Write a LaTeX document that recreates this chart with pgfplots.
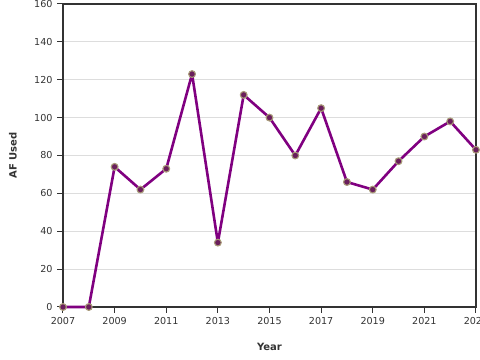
\documentclass[border=0pt]{standalone}
\usepackage{fontspec}
\setmainfont{DejaVu Sans}
\usepackage{pgfplots}
\pgfplotsset{compat=1.18}
\definecolor{lineP}{HTML}{800080}
\definecolor{markF}{HTML}{6A1E5C}
\definecolor{markD}{HTML}{A89A78}
\definecolor{axisC}{HTML}{333333}
\definecolor{gridC}{HTML}{DDDDDD}
\begin{document}
\begin{tikzpicture}
\begin{axis}[
  scale only axis,
  width=413pt, height=303pt,
  xmin=2007, xmax=2023, ymin=0, ymax=160,
  xtick={2007,2009,...,2023},
  ytick={0,20,...,160},
  xticklabels={2007,2009,2011,2013,2015,2017,2019,2021,2023},
  /pgf/number format/assume math mode=true,
  /pgf/number format/1000 sep={},
  ymajorgrids, grid style={gridC, line width=0.8pt},
  axis line style={axisC, line width=1.6pt},
  tick style={axisC, line width=1pt},
  tick align=outside, tickwidth=6pt,
  xtick pos=bottom, ytick pos=left,
  tick label style={font=\fontsize{9.6}{11}\selectfont, text=axisC},
  yticklabel style={xshift=-1pt},
  xticklabel style={yshift=-1pt},
  xlabel={Year}, ylabel={AF Used},
  label style={font=\fontsize{10}{12}\selectfont\bfseries, text=axisC},
  xlabel style={at={(axis description cs:0.5,0)}, anchor=center, yshift=-40pt},
  ylabel style={at={(axis description cs:0,0.5)}, anchor=center, rotate=0, yshift=50pt},
  clip=false,
]
\addplot[lineP, line width=2.6pt, line join=round,
  mark=*, mark size=3.4pt, mark options={fill=markF, draw=markD, line width=1.1pt}]
  coordinates {
  (2007,0) (2008,0) (2009,74) (2010,62) (2011,73) (2012,123) (2013,34)
  (2014,112) (2015,100) (2016,80) (2017,105) (2018,66) (2019,62)
  (2020,77) (2021,90) (2022,98) (2023,83)
  };
\coordinate (sw) at (rel axis cs:0,0);
\coordinate (ne) at (rel axis cs:1,1);
\end{axis}
\pgfresetboundingbox
\useasboundingbox ([shift={(-63pt,-53pt)}]sw) rectangle ([shift={(4pt,4pt)}]ne);
\end{tikzpicture}
\end{document}
